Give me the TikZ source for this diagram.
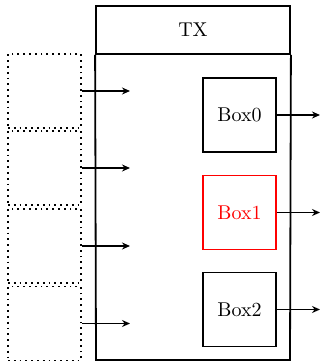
\documentclass[tikz,border=0pt]{standalone}
\usetikzlibrary{arrows.meta}
\begin{document}
\begin{tikzpicture}[x=0.5pt,y=-0.5pt,
  lw/.style={line width=0.9pt},
  blk/.style={draw,lw,minimum width=36.5pt,minimum height=37pt,inner sep=0pt},
  inbox/.style={draw,lw,dotted,minimum width=36.5pt,minimum height=37pt,inner sep=0pt},
  arr/.style={-{Stealth[length=4pt,width=3.5pt]},lw}]
\useasboundingbox (0,0) rectangle (320,362);
% outer TX frame
\node[draw,lw,minimum width=97pt,minimum height=24pt,inner sep=0pt] (tx) at (193,30) {TX};
\draw[lw] (tx.south west) -- (96,360) -- (290,360) -- (tx.south east);
% dotted input boxes
\node[inbox] (i0) at (44.5,91) {};
\node[inbox] (i1) at (44.5,168) {};
\node[inbox] (i2) at (44.5,246) {};
\node[inbox] (i3) at (44.5,323.5) {};
\coordinate (a0) at (130,91);
\coordinate (a1) at (130,168);
\coordinate (a2) at (130,246);
\coordinate (a3) at (130,323.5);
\foreach \k in {0,1,2,3} \draw[arr] (i\k.east) -- (a\k);
% output boxes
\node[blk] (b0) at (239.5,115) {Box0};
\node[blk,draw=red,text=red] (b1) at (239.5,212.5) {Box1};
\node[blk] (b2) at (239.5,309.5) {Box2};
\coordinate (o0) at (320,115);
\coordinate (o1) at (320,212.5);
\coordinate (o2) at (320,309.5);
\foreach \k in {0,1,2} \draw[arr] (b\k.east) -- (o\k);
\end{tikzpicture}
\end{document}
